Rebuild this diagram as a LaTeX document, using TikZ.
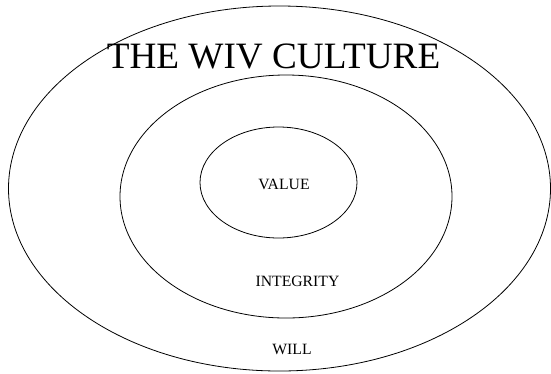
\documentclass[tikz,border=0pt]{standalone}
\usepackage{fontspec}
\setmainfont{Liberation Serif}
\begin{document}
\begin{tikzpicture}[x=1pt,y=-1pt,
    ring/.style={draw, line width=0.8pt},
    lbl/.style={anchor=base, inner sep=0pt, font=\fontsize{15.7}{18}\selectfont}]
  \useasboundingbox (0,0) rectangle (551,373);

  % Rings
  \draw[ring] (279.5,188.5) ellipse (271 and 182.5);
  \draw[ring] (286,196.5) ellipse (166 and 121.5);
  \draw[ring] (278.5,182.5) ellipse (78.5 and 55.5);

  % Title
  \node[lbl, font=\fontsize{37.2}{40}\selectfont] (title) at (273.5,68) {THE WIV CULTURE};

  % Ring labels
  \node[lbl] (value) at (284,189) {VALUE};
  \node[lbl] (integrity) at (297.5,286) {INTEGRITY};
  \node[lbl] (will) at (292,354) {WILL};
\end{tikzpicture}
\end{document}
